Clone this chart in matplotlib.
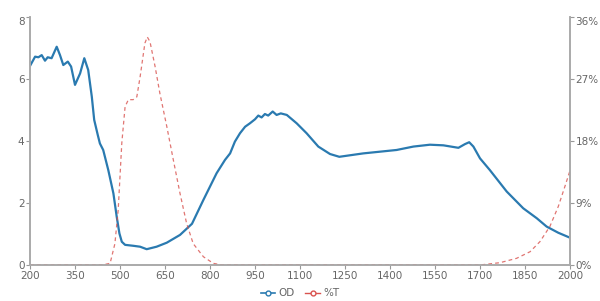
import matplotlib.pyplot as plt
from matplotlib.lines import Line2D

# OD spectrum (left axis)
od_x = [200, 217, 228, 239, 250, 259, 272, 289, 300, 311, 326, 337, 350, 367, 381, 394,
        406, 414, 426, 433, 444, 461, 478, 489, 498, 506, 517, 544, 567, 589, 622, 656,
        700, 740, 778, 822, 850, 867, 883, 900, 917, 933, 950, 961, 972, 983, 994, 1009,
        1022, 1036, 1056, 1089, 1122, 1161, 1200, 1231, 1311, 1422, 1478, 1533, 1578,
        1628, 1650, 1664, 1678, 1700, 1733, 1789, 1844, 1889, 1922, 1961, 2000]
od_y = [6.42, 6.72, 6.70, 6.77, 6.59, 6.70, 6.67, 7.04, 6.77, 6.45, 6.56, 6.40, 5.81, 6.18,
        6.67, 6.29, 5.43, 4.68, 4.19, 3.92, 3.71, 3.06, 2.31, 1.56, 1.02, 0.75, 0.65, 0.62,
        0.59, 0.51, 0.59, 0.72, 0.97, 1.33, 2.10, 2.96, 3.39, 3.60, 3.98, 4.25, 4.46, 4.57,
        4.70, 4.82, 4.76, 4.87, 4.82, 4.95, 4.84, 4.89, 4.84, 4.57, 4.25, 3.82, 3.58, 3.49,
        3.60, 3.71, 3.82, 3.88, 3.86, 3.78, 3.90, 3.96, 3.82, 3.44, 3.06, 2.37, 1.83, 1.51,
        1.24, 1.04, 0.88]

# transmission (right axis, %)
t_x = [200, 440, 467, 483, 494, 506, 517, 528, 544, 556, 567, 583, 591, 600, 617, 633,
       656, 678, 700, 722, 744, 778, 811, 840, 1700, 1767, 1822, 1867, 1900, 1933, 1961,
       1983, 2000]
t_y = [0, 0, 0.24, 3.1, 8.0, 17.7, 23.0, 24.0, 24.0, 24.4, 27.3, 32.2, 33.1, 32.4, 28.8,
       24.9, 20.1, 15.2, 10.4, 6.05, 3.1, 1.2, 0.24, 0, 0, 0.34, 0.97, 1.93, 3.4, 5.6, 8.5,
       11.4, 13.7]

xticks = [200, 350, 500, 650, 800, 950, 1100, 1250, 1400, 1550, 1700, 1850, 2000]

blue = '#2a7ab0'
red = '#d9534f'
gray = '#999999'
txt = '#666666'

fig = plt.figure(figsize=(6, 3.01), dpi=100)
ax = fig.add_axes([0.05, 0.1196, 0.9, 0.824])
ax2 = ax.twinx()

ax.plot(od_x, od_y, color=blue, lw=1.6)
ax2.plot(t_x, t_y, color=red, lw=0.9, ls=(0, (3, 2.5)), alpha=0.8)

ax.set_xlim(200, 2000)
ax.set_ylim(0, 8)
ax2.set_ylim(0, 36)
ax.set_xticks(xticks)
ax.set_yticks([0, 2, 4, 6, 8])
ax2.set_yticks([0, 9, 18, 27, 36])
ax2.set_yticklabels(['0%', '9%', '18%', '27%', '36%'])

for a in (ax, ax2):
    for s in a.spines.values():
        s.set_color('#aaaaaa')
        s.set_linewidth(1.2)
    a.spines['top'].set_visible(False)
    a.tick_params(colors=gray, labelcolor=txt, labelsize=7.5, length=3, width=0.8, pad=1)

ax.get_yticklabels()[-1].set_va('top')
ax2.get_yticklabels()[-1].set_va('top')

handles = [
    Line2D([], [], color=blue, lw=1.2, marker='o', ms=3.5, mfc='white', mew=1.0),
    Line2D([], [], color=red, lw=1.0, marker='o', ms=3.5, mfc='white', mew=1.0),
]
fig.legend(handles, ['OD', '%T'], loc='center', bbox_to_anchor=(0.5, 0.025), ncol=2,
           frameon=False, fontsize=7.5, handlelength=1.4, handletextpad=0.3,
           columnspacing=1.0, labelcolor=txt)

fig.savefig('out.png', dpi=100)
